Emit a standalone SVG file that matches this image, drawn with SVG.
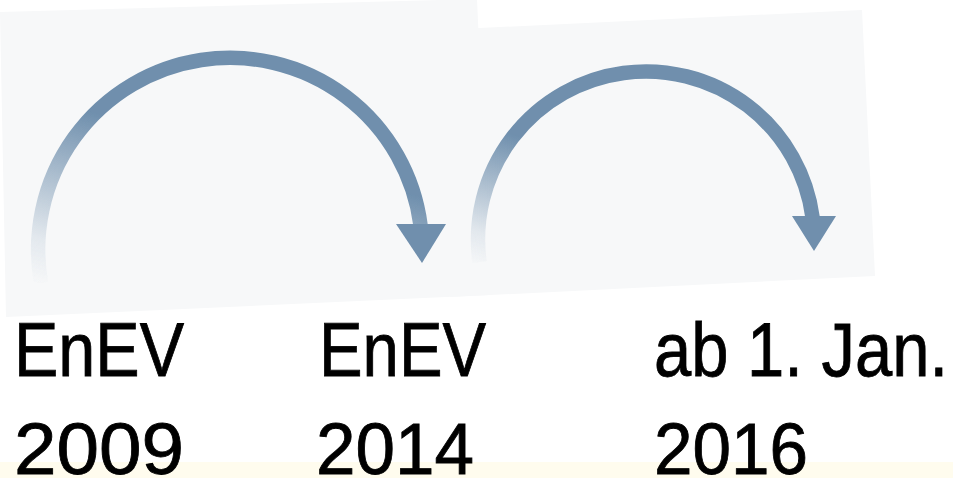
<svg xmlns="http://www.w3.org/2000/svg" width="953" height="478" viewBox="0 0 953 478">
<style>
.panel{fill:#f7f8f9}
.arc{fill:none;stroke-width:14.5}
.head{fill:#6f8fad}
.lbl{font-family:"Liberation Sans","DejaVu Sans",sans-serif;font-size:76px;fill:#000;stroke:#000;stroke-width:0.8}
.yr{font-size:72px}
</style>
<defs>
<linearGradient id="g1" gradientUnits="userSpaceOnUse" x1="40" y1="285" x2="85" y2="110">
<stop offset="0" stop-color="#6f8fad" stop-opacity="0"/>
<stop offset="0.25" stop-color="#6f8fad" stop-opacity="0.15"/>
<stop offset="1" stop-color="#6f8fad" stop-opacity="1"/>
</linearGradient>
<linearGradient id="g2" gradientUnits="userSpaceOnUse" x1="478" y1="268" x2="515" y2="135">
<stop offset="0" stop-color="#6f8fad" stop-opacity="0"/>
<stop offset="0.25" stop-color="#6f8fad" stop-opacity="0.15"/>
<stop offset="1" stop-color="#6f8fad" stop-opacity="1"/>
</linearGradient>
<filter id="soft" x="-5%" y="-5%" width="110%" height="110%"><feGaussianBlur stdDeviation="0.6"/></filter>
</defs>
<rect x="0" y="0" width="953" height="478" fill="#ffffff"/>
<rect x="0" y="462" width="953" height="16" fill="#fffcee"/>
<g id="panel2"><polygon class="panel" points="438,30 862,10 875,276 450,297"/></g>
<g id="panel1"><polygon class="panel" points="0,12 477,-1 490,295 6,317"/></g>
<g id="connectors" filter="url(#soft)">
<path class="arc" stroke="url(#g1)" d="M41,283 A192,192 0 1 1 420.5,225"/>
<polygon class="head" points="396,224 446,224 422,263"/>
<path class="arc" stroke="url(#g2)" stroke-width="13" d="M479.5,262 A168,168 0 1 1 812.5,217"/>
<polygon class="head" points="792,216 836,216 814,251"/>
</g>
<g id="n2009">
<text class="lbl" x="14" y="376" textLength="170" lengthAdjust="spacingAndGlyphs">EnEV</text>
<text class="lbl yr" x="14" y="474" textLength="170" lengthAdjust="spacingAndGlyphs">2009</text>
</g>
<g id="n2014">
<text class="lbl" x="319" y="376" textLength="167" lengthAdjust="spacingAndGlyphs">EnEV</text>
<text class="lbl yr" x="316" y="474" textLength="158" lengthAdjust="spacingAndGlyphs">2014</text>
</g>
<g id="n2016">
<text class="lbl" x="654" y="376" textLength="294" lengthAdjust="spacingAndGlyphs">ab 1. Jan.</text>
<text class="lbl yr" x="654" y="474" textLength="154" lengthAdjust="spacingAndGlyphs">2016</text>
</g>
</svg>
